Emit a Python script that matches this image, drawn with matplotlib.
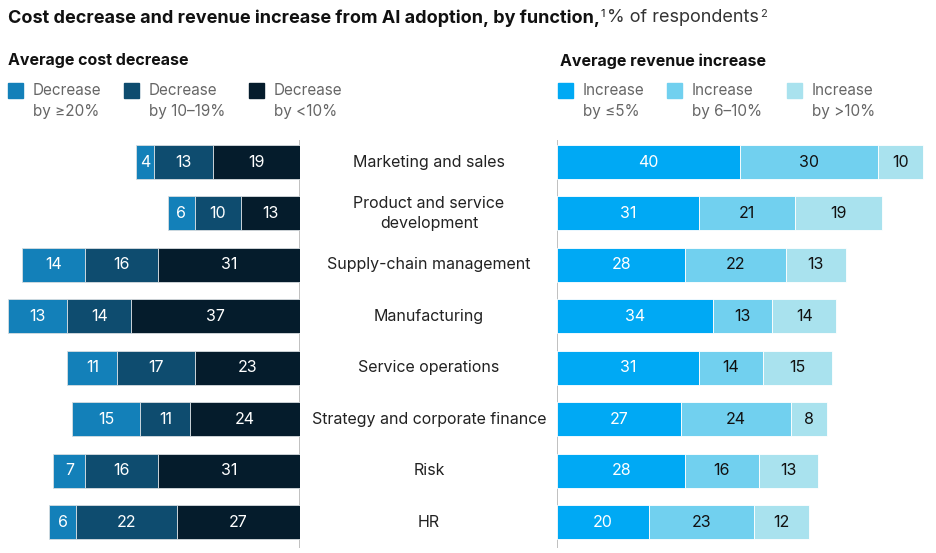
import matplotlib.pyplot as plt
from matplotlib.patches import Rectangle

plt.rcParams['font.family'] = ['Inter', 'DejaVu Sans']

# data
categories = ["Marketing and sales", "Product and service\ndevelopment", "Supply-chain management",
              "Manufacturing", "Service operations", "Strategy and corporate finance", "Risk", "HR"]
dec_20 = [4, 6, 14, 13, 11, 15, 7, 6]
dec_10_19 = [13, 10, 16, 14, 17, 11, 16, 22]
dec_lt10 = [19, 13, 31, 37, 23, 24, 31, 27]
inc_5 = [40, 31, 28, 34, 31, 27, 28, 20]
inc_6_10 = [30, 21, 22, 13, 14, 24, 16, 23]
inc_gt10 = [10, 19, 13, 14, 15, 8, 13, 12]

dec_labels = ["Decrease\nby \u226520%", "Decrease\nby 10\u201319%", "Decrease\nby <10%"]
inc_labels = ["Increase\nby \u22645%", "Increase\nby 6\u201310%", "Increase\nby >10%"]

dec_colors = ["#1380b9", "#0e4c6f", "#051c2c"]
inc_colors = ["#00a9f4", "#71d0ef", "#a9e2ee"]
dec_text = ["white", "white", "white"]
inc_text = ["white", "#111111", "#111111"]

W, H = 936, 553
fig = plt.figure(figsize=(W / 100, H / 100), dpi=100)

def fx(px):
    return px / W

def fy(py):
    return 1 - py / H

scale_l = 4.565  # px per unit
scale_r = 4.58
top, bottom = 140, 548
ylo, yhi = 7.505, -0.428

axl = fig.add_axes([0, fy(bottom), fx(300), (bottom - top) / H])
axr = fig.add_axes([fx(557), fy(bottom), fx(W - 557), (bottom - top) / H])
axl.set_xlim(300 / scale_l, 0)
axr.set_xlim(0, (W - 557) / scale_r)

ypos = list(range(len(categories)))
bh = 0.66

# left side: stacked from the center outward
left = [0] * len(categories)
for vals, col, tc in zip([dec_lt10, dec_10_19, dec_20], dec_colors[::-1], dec_text[::-1]):
    axl.barh(ypos, vals, left=left, height=bh, color=col, edgecolor="#d8dde0", linewidth=0.6)
    for y, v, l in zip(ypos, vals, left):
        axl.text(l + v / 2, y, str(v), ha="center", va="center", color=tc, fontsize=11.5)
    left = [a + b for a, b in zip(left, vals)]

left = [0] * len(categories)
for vals, col, tc in zip([inc_5, inc_6_10, inc_gt10], inc_colors, inc_text):
    axr.barh(ypos, vals, left=left, height=bh, color=col, edgecolor="white", linewidth=0.6)
    for y, v, l in zip(ypos, vals, left):
        axr.text(l + v / 2, y, str(v), ha="center", va="center", color=tc, fontsize=11.5)
    left = [a + b for a, b in zip(left, vals)]

for ax in (axl, axr):
    ax.set_ylim(ylo, yhi)
    ax.set_xticks([])
    ax.set_yticks([])
    for s in ax.spines.values():
        s.set_visible(False)
    ax.patch.set_alpha(0)

axl.axvline(0, color="#b5b5b5", linewidth=1.2, zorder=0)
axr.axvline(0, color="#b5b5b5", linewidth=1.2, zorder=0)

# category labels in the middle
for y, cat in zip(ypos, categories):
    axl.text(-129 / scale_l, y, cat, ha="center", va="center", fontsize=11.5,
             color="#222222", linespacing=1.4, clip_on=False)

# title with superscripts
r = fig.canvas.get_renderer()
t1 = fig.text(fx(8), fy(18), "Cost decrease and revenue increase from AI adoption, by function,",
              fontsize=13, fontweight="bold", va="center", color="#111111")
bb = t1.get_window_extent(r)
t2 = fig.text(bb.x1 / W + fx(1), fy(14), "1", fontsize=8, va="center", color="#111111")
bb = t2.get_window_extent(r)
t3 = fig.text(bb.x1 / W + fx(2), fy(18), "% of respondents", fontsize=13, va="center", color="#333333")
bb = t3.get_window_extent(r)
fig.text(bb.x1 / W + fx(1), fy(14), "2", fontsize=8, va="center", color="#333333")

# section headers and legends
fig.text(fx(8), fy(61), "Average cost decrease", fontsize=11.5, fontweight="bold", va="center", color="#111111")
fig.text(fx(560), fy(61), "Average revenue increase", fontsize=11.5, fontweight="bold", va="center", color="#111111")

def legend(xs, labels, colors):
    for x, lab, col in zip(xs, labels, colors):
        fig.patches.append(Rectangle((fx(x), fy(98)), fx(15), 15 / H, color=col,
                                     transform=fig.transFigure, figure=fig))
        fig.text(fx(x + 25), fy(83), lab, fontsize=11, va="top", ha="left",
                 color="#666666", linespacing=1.5)

legend([8, 124, 249], dec_labels, dec_colors)
legend([558, 667, 787], inc_labels, inc_colors)

fig.savefig("out.png", dpi=100)
